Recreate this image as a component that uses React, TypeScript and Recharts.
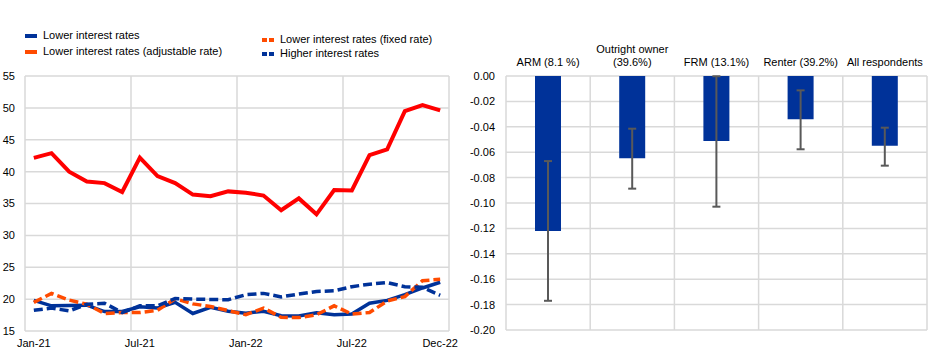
import React from "react";
import {
  LineChart,
  Line,
  BarChart,
  Bar,
  ErrorBar,
  XAxis,
  YAxis,
  CartesianGrid,
} from "recharts";

// ---------- Left chart data ----------
const months = [
  "Jan-21", "Feb-21", "Mar-21", "Apr-21", "May-21", "Jun-21",
  "Jul-21", "Aug-21", "Sep-21", "Oct-21", "Nov-21", "Dec-21",
  "Jan-22", "Feb-22", "Mar-22", "Apr-22", "May-22", "Jun-22",
  "Jul-22", "Aug-22", "Sep-22", "Oct-22", "Nov-22", "Dec-22",
];
const lowerRates = [
  19.8, 18.95, 19.0, 19.05, 18.05, 18.05, 18.8, 18.6, 19.5, 17.75, 18.7, 18.1,
  17.8, 18.1, 17.4, 17.35, 17.85, 17.55, 17.65, 19.35, 19.8, 20.7, 21.75, 22.65,
];
const adjustableRates = [
  42.15, 42.9, 40.0, 38.45, 38.2, 36.8, 42.2, 39.3, 38.2, 36.4, 36.15, 36.9,
  36.7, 36.25, 33.95, 35.8, 33.3, 37.1, 37.05, 42.6, 43.5, 49.5, 50.45, 49.6,
];
const fixedRates = [
  19.5, 20.9, 19.85, 19.2, 17.75, 17.9, 17.9, 18.25, 20.05, 19.25, 18.85, 18.2,
  17.55, 18.6, 17.15, 17.1, 17.55, 18.95, 17.65, 17.9, 19.7, 20.4, 22.9, 23.1,
];
const higherRates = [
  18.25, 18.6, 18.15, 19.2, 19.35, 17.9, 18.95, 18.95, 20.1, 20.0, 19.95, 19.9,
  20.7, 20.9, 20.35, 20.8, 21.2, 21.3, 21.95, 22.35, 22.6, 21.95, 21.85, 20.6,
];
const leftYTicks = [15, 20, 25, 30, 35, 40, 45, 50, 55];
const leftXTickIdx = [0, 6, 12, 18, 23];
const leftGridIdx = [-0.5, 5.5, 11.5, 17.5, 23.5];

// ---------- Right chart data ----------
const groups = [
  "ARM (8.1 %)",
  "Outright owner (39.6%)",
  "FRM (13.1%)",
  "Renter (39.2%)",
  "All respondents",
];
const effects = [-0.122, -0.0648, -0.0512, -0.0341, -0.0549];
const errLow = [0.055, 0.0239, 0.0517, 0.0236, 0.0157];
const errHigh = [0.055, 0.0233, 0.051, 0.0228, 0.0142];
const rightYTicks = [0, -0.02, -0.04, -0.06, -0.08, -0.1, -0.12, -0.14, -0.16, -0.18, -0.2];
const rightGridIdx = [0, 1, 2, 3, 4, 5];

// ---------- Styles ----------
const BLUE = "#003299";
const ORANGE = "#ff4b00";
const RED = "#ff0000";
const GRID = "#d9d9d9";
const FONT = "'Liberation Sans', Arial, sans-serif";

const legendItems = [
  { label: "Lower interest rates", color: BLUE, dashed: false, left: 25, top: 36 },
  { label: "Lower interest rates (adjustable rate)", color: ORANGE, dashed: false, left: 25, top: 52 },
  { label: "Lower interest rates (fixed rate)", color: ORANGE, dashed: true, left: 262, top: 40 },
  { label: "Higher interest rates", color: BLUE, dashed: true, left: 262, top: 54 },
];

const lineData = months.map((m, i) => ({
  idx: i,
  month: m,
  lower: lowerRates[i],
  adjustable: adjustableRates[i],
  fixed: fixedRates[i],
  higher: higherRates[i],
}));

const barData = groups.map((g, i) => ({
  name: g,
  gi: i + 0.5,
  value: effects[i],
  err: [errLow[i], errHigh[i]],
}));

const TopTick = (props: any) => {
  const { x, y, payload } = props;
  const label: string = payload.value;
  let lines = [label];
  if (label.length > 18) {
    const k = label.indexOf(" (");
    lines = [label.slice(0, k), label.slice(k + 1)];
  }
  const base = y - 2;
  return (
    <g>
      {lines.map((ln, i) => (
        <text
          key={i}
          x={x}
          y={base - (lines.length - 1 - i) * 13}
          textAnchor="middle"
          fontSize={11}
          fontFamily={FONT}
          fill="#000"
        >
          {ln}
        </text>
      ))}
    </g>
  );
};

const Swatch = ({ color, dashed }: { color: string; dashed: boolean }) =>
  dashed ? (
    <span style={{ position: "absolute", left: 0, top: -2, width: 13, height: 4 }}>
      <span style={{ position: "absolute", left: 0, top: 0, width: 5, height: 4, background: color }} />
      <span style={{ position: "absolute", left: 7, top: 0, width: 5, height: 4, background: color }} />
    </span>
  ) : (
    <span style={{ position: "absolute", left: 0, top: -2, width: 12, height: 4, background: color }} />
  );

export default function App() {
  const tickStyle = { fontSize: 11, fontFamily: FONT, fill: "#000" };
  return (
    <div
      style={{
        position: "absolute",
        left: 0,
        top: 0,
        width: 940,
        height: 354,
        background: "#fff",
        fontFamily: FONT,
      }}
    >
      {/* Legend */}
      {legendItems.map((it) => (
        <div key={it.label} style={{ position: "absolute", left: it.left, top: it.top, height: 0 }}>
          <Swatch color={it.color} dashed={it.dashed} />
          <span
            style={{
              position: "absolute",
              left: 18,
              top: -8,
              fontSize: 11,
              lineHeight: "15px",
              whiteSpace: "nowrap",
              color: "#000",
            }}
          >
            {it.label}
          </span>
        </div>
      ))}

      {/* Left line chart */}
      <div style={{ position: "absolute", left: 0, top: 0 }}>
        <LineChart
          width={470}
          height={354}
          data={lineData}
          margin={{ top: 76, right: 21, bottom: 0, left: 0 }}
        >
          <CartesianGrid
            xAxisId="grid"
            stroke={GRID}
            strokeWidth={1.5}
            horizontal={true}
            vertical={true}
          />
          <XAxis
            xAxisId="grid"
            type="number"
            dataKey="idx"
            domain={[-0.5, 23.5]}
            ticks={leftGridIdx}
            allowDataOverflow
            hide
          />
          <XAxis
            type="number"
            dataKey="idx"
            domain={[-0.5, 23.5]}
            ticks={leftXTickIdx}
            interval={0}
            allowDataOverflow
            tickFormatter={(v: number) => months[Math.round(v)] ?? ""}
            axisLine={false}
            tickLine={false}
            height={23}
            tick={tickStyle}
          />
          <YAxis
            domain={[15, 55]}
            ticks={leftYTicks}
            interval={0}
            axisLine={false}
            tickLine={false}
            width={25}
            tickMargin={4}
            tick={tickStyle}
          />
          <Line
            dataKey="lower"
            stroke={BLUE}
            strokeWidth={3.5}
            dot={false}
            isAnimationActive={false}
          />
          <Line
            dataKey="adjustable"
            stroke={RED}
            strokeWidth={4}
            dot={false}
            isAnimationActive={false}
          />
          <Line
            dataKey="fixed"
            stroke={ORANGE}
            strokeWidth={3.5}
            strokeDasharray="9 4"
            dot={false}
            isAnimationActive={false}
          />
          <Line
            dataKey="higher"
            stroke={BLUE}
            strokeWidth={3.5}
            strokeDasharray="9 4"
            dot={false}
            isAnimationActive={false}
          />
        </LineChart>
      </div>

      {/* Right bar chart */}
      <div style={{ position: "absolute", left: 470, top: 0 }}>
        <BarChart
          width={470}
          height={354}
          data={barData}
          margin={{ top: 46, right: 13, bottom: 24, left: 0 }}
        >
          <CartesianGrid xAxisId="grid" stroke={GRID} strokeWidth={1.5} />
          <XAxis
            xAxisId="grid"
            type="number"
            dataKey="gi"
            domain={[0, 5]}
            ticks={rightGridIdx}
            allowDataOverflow
            hide
          />
          <XAxis
            dataKey="name"
            orientation="top"
            interval={0}
            axisLine={false}
            tickLine={false}
            height={30}
            tick={<TopTick />}
          />
          <YAxis
            domain={[-0.2, 0]}
            ticks={rightYTicks}
            interval={0}
            allowDataOverflow
            axisLine={false}
            tickLine={false}
            width={36}
            tickMargin={5}
            tickFormatter={(v: number) => (Math.abs(v) < 1e-9 ? "0.00" : v.toFixed(2))}
            tick={tickStyle}
          />
          <Bar dataKey="value" fill={BLUE} barSize={26} isAnimationActive={false}>
            <ErrorBar
              dataKey="err"
              stroke="#595959"
              strokeWidth={2}
              width={4}
              direction="y"
            />
          </Bar>
        </BarChart>
      </div>
    </div>
  );
}
